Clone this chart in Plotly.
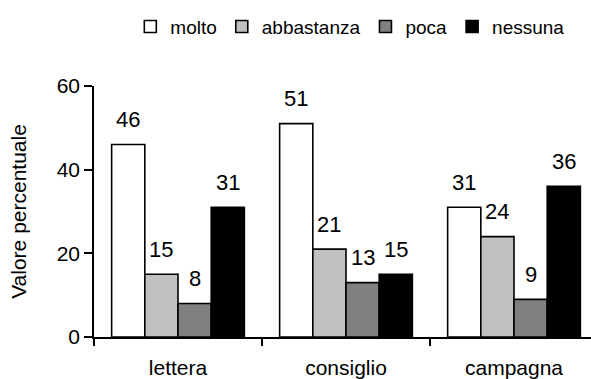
import plotly.graph_objects as go

categories = ["lettera", "consiglio", "campagna"]
series_names = ["molto", "abbastanza", "poca", "nessuna"]
molto = [46, 51, 31]
abbastanza = [15, 21, 24]
poca = [8, 13, 9]
nessuna = [31, 15, 36]
series_values = [molto, abbastanza, poca, nessuna]
colors = ["#FFFFFF", "#C0C0C0", "#808080", "#000000"]
y_ticks = [0, 20, 40, 60]

FONT = "Liberation Sans, Arial, sans-serif"
bargap = 0.21

fig = go.Figure()
for name, vals, col in zip(series_names, series_values, colors):
    fig.add_trace(go.Bar(
        name=name, x=categories, y=vals,
        marker=dict(color=col, line=dict(color="black", width=1.6)),
    ))

n = len(series_names)
w = (1 - bargap) / n
annotations = []
for k, vals in enumerate(series_values):
    off = -(1 - bargap) / 2 + w * (k + 0.5)
    for i, v in enumerate(vals):
        annotations.append(dict(
            x=i + off, y=v, xref="x", yref="y", text=str(v),
            showarrow=False, yanchor="middle", yshift=25,
            font=dict(family=FONT, size=22, color="black"),
        ))

fig.update_layout(
    width=591, height=379,
    margin=dict(l=94, r=0, t=86, b=42, autoexpand=False),
    paper_bgcolor="white", plot_bgcolor="white",
    barmode="group", bargap=bargap, bargroupgap=0,
    font=dict(family=FONT, size=21, color="black"),
    showlegend=True,
    legend=dict(orientation="h", x=0.965, xref="container", xanchor="right",
                y=0.98, yref="container", yanchor="top",
                font=dict(family=FONT, size=19, color="black"),
                itemclick=False, tracegroupgap=0, bgcolor="rgba(0,0,0,0)"),
    annotations=annotations,
)
fig.update_xaxes(
    type="category", range=[-0.5, 2.5 - 7 / 168], automargin=False,
    showline=True, linecolor="black", linewidth=1.6,
    ticks="outside", tickson="boundaries", ticklen=7, tickwidth=1.6, tickcolor="black",
    ticklabelstandoff=11, showgrid=False,
    tickfont=dict(family=FONT, size=21, color="black"),
)
fig.update_yaxes(
    range=[0, 60], tickvals=y_ticks, automargin=False,
    showline=True, linecolor="black", linewidth=1.6,
    ticks="outside", ticklen=8, tickwidth=1.6, tickcolor="black",
    showgrid=False, zeroline=False,
    tickfont=dict(family=FONT, size=21, color="black"),
    title=dict(text="Valore percentuale", font=dict(family=FONT, size=21, color="black"), standoff=24),
)

fig.write_html("out.html", config={"displayModeBar": False},
               post_script="document.body.style.margin='0';")
